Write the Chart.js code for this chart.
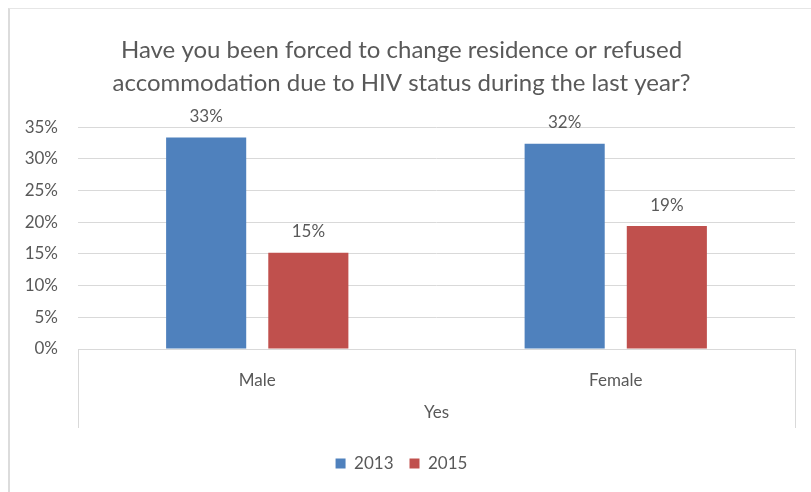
<!DOCTYPE html>
<html>
<head>
<meta charset="utf-8">
<script src="https://cdn.jsdelivr.net/npm/chart.js@4.4.1/dist/chart.umd.min.js"></script>
<style>
    body { margin: 0; background: #fff; }
    #wrap { position: relative; width: 811px; height: 492px; }
    #frame {
        position: absolute; left: 8px; top: 8px; right: 0; bottom: 0;
        border-left: 2px solid #dcdcdc; border-top: 1px solid #e6e6e6;
        pointer-events: none;
    }
</style>
</head>
<body>
<div id="wrap">
    <canvas id="myChart" width="811" height="492"></canvas>
    <div id="frame"></div>
</div>
<script>
// chart data
const categories = ['Male', 'Female'];
const groupLabel = 'Yes';
const years = ['2013', '2015'];
const values2013 = [33.4, 32.4];
const values2015 = [15.2, 19.4];
const yTicks = [0, 5, 10, 15, 20, 25, 30, 35];

const textColor = '#595959';
const gridColor = '#d9d9d9';
const fontSize = 17;

// draws the "33%" style labels above each bar
const barLabels = {
    id: 'barLabels',
    afterDatasetsDraw(chart) {
        const ctx = chart.ctx;
        ctx.save();
        ctx.font = fontSize + 'px Lato';
        ctx.fillStyle = textColor;
        ctx.textAlign = 'center';
        ctx.textBaseline = 'middle';
        chart.data.datasets.forEach((ds, i) => {
            chart.getDatasetMeta(i).data.forEach((bar, j) => {
                ctx.fillText(Math.round(ds.data[j]) + '%', bar.x, bar.y - 21);
            });
        });
        ctx.restore();
    }
};

// vertical separators of the grouped (multi level) category axis
const groupLines = {
    id: 'groupLines',
    afterDraw(chart) {
        const ctx = chart.ctx;
        const area = chart.chartArea;
        ctx.save();
        ctx.strokeStyle = gridColor;
        ctx.lineWidth = 1;
        [area.left, area.right].forEach((x) => {
            ctx.beginPath();
            ctx.moveTo(Math.round(x) + 0.5, area.bottom);
            ctx.lineTo(Math.round(x) + 0.5, area.bottom + 79);
            ctx.stroke();
        });
        ctx.restore();
    }
};

const chartElement = document.getElementById('myChart').getContext('2d');
window.myChart = new Chart(chartElement, {
    type: 'bar',
    data: {
        labels: categories,
        datasets: [
            {
                label: years[0],
                data: values2013,
                backgroundColor: '#4F81BD'
            },
            {
                label: years[1],
                data: values2015,
                backgroundColor: '#C0504D'
            }
        ]
    },
    options: {
        responsive: false,
        animation: false,
        devicePixelRatio: 1,
        categoryPercentage: 0.57,
        barPercentage: 0.784,
        layout: {
            padding: { left: 8, right: 16, top: 0, bottom: 10 }
        },
        plugins: {
            title: {
                display: true,
                text: [
                    'Have you been forced to change residence or refused',
                    'accommodation due to HIV status during the last year?'
                ],
                color: textColor,
                font: { family: 'Lato', size: 24, weight: 'normal', lineHeight: 1.38 },
                padding: { top: 34, bottom: 27 }
            },
            legend: {
                position: 'bottom',
                labels: {
                    color: textColor,
                    font: { family: 'Lato', size: fontSize },
                    boxWidth: 10,
                    boxHeight: 10,
                    padding: 16
                }
            },
            tooltip: { enabled: false }
        },
        scales: {
            x: {
                grid: { display: false },
                border: { color: gridColor },
                ticks: {
                    color: textColor,
                    font: { family: 'Lato', size: fontSize },
                    padding: 13
                },
                title: {
                    display: true,
                    text: groupLabel,
                    color: textColor,
                    font: { family: 'Lato', size: fontSize },
                    padding: { top: 0, bottom: 16 }
                },
                afterFit: (scale) => { scale.height = 90; }
            },
            y: {
                min: 0,
                max: 35,
                afterBuildTicks: (scale) => {
                    scale.ticks = yTicks.map((v) => ({ value: v }));
                },
                grid: { color: gridColor, drawTicks: false },
                border: { display: false },
                ticks: {
                    color: textColor,
                    font: { family: 'Lato', size: fontSize },
                    padding: 20,
                    callback: (v) => v + '%'
                },
                afterFit: (scale) => { scale.width = 70; }
            }
        }
    },
    plugins: [barLabels, groupLines]
});
</script>
</body>
</html>
